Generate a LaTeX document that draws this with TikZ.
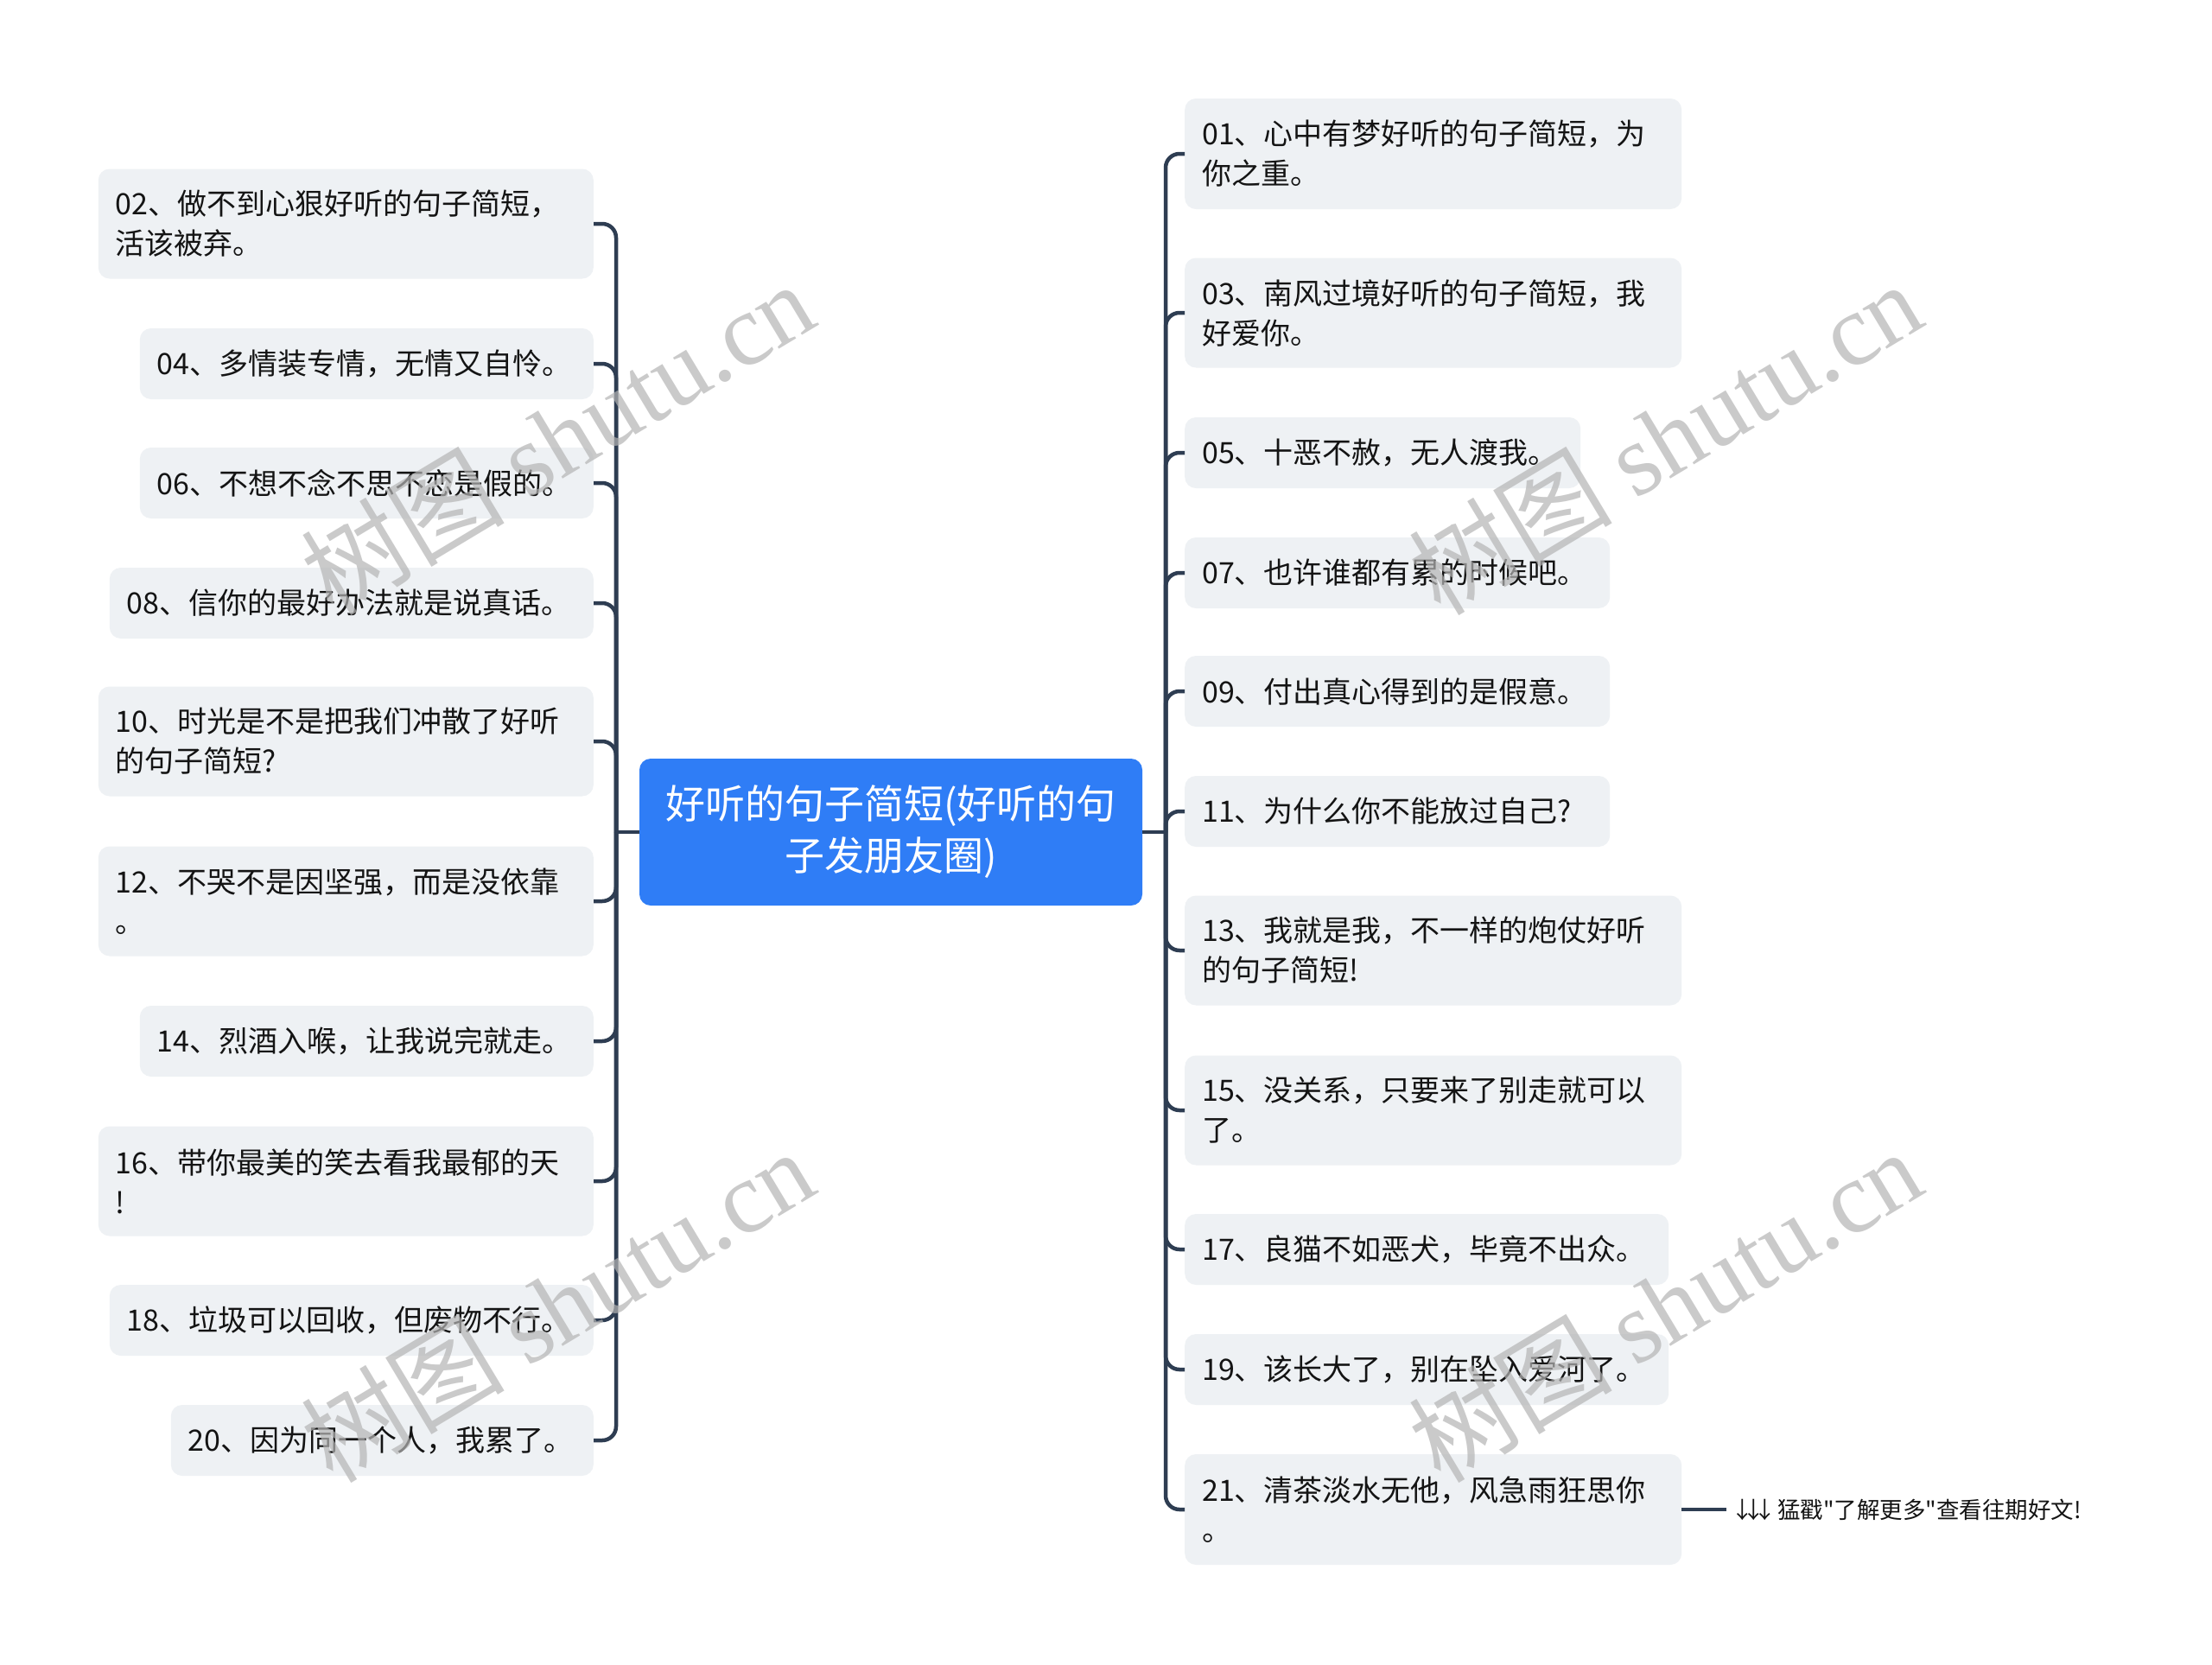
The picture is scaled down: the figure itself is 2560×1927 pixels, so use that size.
\documentclass[tikz,border=0pt]{standalone}
\usepackage{fontspec}
\setmainfont{Noto Sans CJK SC}
\newfontfamily\footfont[Ligatures=TeXOff]{Noto Sans CJK SC}
\newfontfamily\wmlatin{Liberation Serif}
\definecolor{linec}{HTML}{2E3D52}
\definecolor{boxc}{HTML}{EEF1F4}
\definecolor{mainc}{HTML}{2F7DF6}
\definecolor{txtc}{HTML}{141414}
\definecolor{wmc}{HTML}{B4B4B4}
\tikzset{
  leafbox/.style={fill=boxc, rounded corners=13pt, inner xsep=20pt, inner ysep=0pt,
    align=left, text=txtc, font=\fontsize{34}{46}\selectfont},
  leafL/.style={leafbox, anchor=east},
  leafR/.style={leafbox, anchor=west},
  conn/.style={draw=linec, line width=4.5pt, rounded corners=16pt},
  wmark/.style={text=wmc, opacity=0.7, rotate=31, font=\fontsize{118}{118}\selectfont, inner sep=0pt}
}
\begin{document}
\begin{tikzpicture}[x=1pt,y=-1pt]
\useasboundingbox[fill=white] (0,0) rectangle (2560,1927);
% centre
\node[fill=mainc, rounded corners=13pt, minimum width=582pt, minimum height=170pt, text width=560pt,
  align=center, text=white, font=\fontsize{46}{60}\selectfont] (c) at (1031,963)
  {好听的句子简短(好听的句\\子发朋友圈)};
\coordinate (lj) at (713,963);
\coordinate (rj) at (1349,963);
% left leaves
\node[leafL, text width=533pt, minimum height=127pt] (n02) at (687,259) {02、做不到心狠好听的句子简短，\\活该被弃。};
\node[leafL, text width=485pt, minimum height=82pt] (n04) at (687,421) {04、多情装专情，无情又自怜。};
\node[leafL, text width=485pt, minimum height=82pt] (n06) at (687,559) {06、不想不念不思不恋是假的。};
\node[leafL, text width=520pt, minimum height=82pt] (n08) at (687,698) {08、信你的最好办法就是说真话。};
\node[leafL, text width=533pt, minimum height=127pt] (n10) at (687,858) {10、时光是不是把我们冲散了好听\\的句子简短?};
\node[leafL, text width=533pt, minimum height=127pt] (n12) at (687,1043) {12、不哭不是因坚强，而是没依靠\\。};
\node[leafL, text width=485pt, minimum height=82pt] (n14) at (687,1205) {14、烈酒入喉，让我说完就走。};
\node[leafL, text width=533pt, minimum height=127pt] (n16) at (687,1367) {16、带你最美的笑去看我最郁的天\\!};
\node[leafL, text width=520pt, minimum height=82pt] (n18) at (687,1528) {18、垃圾可以回收，但废物不行。};
\node[leafL, text width=449pt, minimum height=82pt] (n20) at (687,1667) {20、因为同一个人，我累了。};
% right leaves
\node[leafR, text width=535pt, minimum height=128pt] (n01) at (1371,178) {01、心中有梦好听的句子简短，为\\你之重。};
\node[leafR, text width=535pt, minimum height=127pt] (n03) at (1371,362) {03、南风过境好听的句子简短，我\\好爱你。};
\node[leafR, text width=418pt, minimum height=82pt] (n05) at (1371,524) {05、十恶不赦，无人渡我。};
\node[leafR, text width=452pt, minimum height=82pt] (n07) at (1371,663) {07、也许谁都有累的时候吧。};
\node[leafR, text width=452pt, minimum height=82pt] (n09) at (1371,800) {09、付出真心得到的是假意。};
\node[leafR, text width=452pt, minimum height=82pt] (n11) at (1371,939) {11、为什么你不能放过自己?};
\node[leafR, text width=535pt, minimum height=127pt] (n13) at (1371,1100) {13、我就是我，不一样的炮仗好听\\的句子简短!};
\node[leafR, text width=535pt, minimum height=127pt] (n15) at (1371,1285) {15、没关系，只要来了别走就可以\\了。};
\node[leafR, text width=520pt, minimum height=82pt] (n17) at (1371,1446) {17、良猫不如恶犬，毕竟不出众。};
\node[leafR, text width=520pt, minimum height=82pt] (n19) at (1371,1585) {19、该长大了，别在坠入爱河了。};
\node[leafR, text width=535pt, minimum height=128pt] (n21) at (1371,1747) {21、清茶淡水无他，风急雨狂思你\\。};
% footer
\node[anchor=west, inner sep=0pt, text=txtc, font=\footfont\fontsize{26.5}{30}\selectfont] (foot) at (2010,1747)
  {\makebox[13pt]{↓}\makebox[13pt]{↓}\makebox[13pt]{↓}\hspace{8pt}猛戳"了解更多"查看往期好文!};
% connectors
\draw[conn] (c.west) -- (lj);
\draw[conn] (c.east) -- (rj);
\foreach \n in {n02,n04,n06,n08,n10,n12,n14,n16,n18,n20}{\draw[conn] (lj) |- (\n.east);}
\foreach \n in {n01,n03,n05,n07,n09,n11,n13,n15,n17,n19,n21}{\draw[conn] (rj) |- (\n.west);}
\draw[draw=linec, line width=4pt] (n21.east) -- ([xshift=-12pt]foot.west);
% watermarks
\node[wmark] (w1) at (645,506) {树图 {\wmlatin shutu.cn}};
\node[wmark] (w2) at (645,1510) {树图 {\wmlatin shutu.cn}};
\node[wmark] (w3) at (1927,506) {树图 {\wmlatin shutu.cn}};
\node[wmark] (w4) at (1927,1510) {树图 {\wmlatin shutu.cn}};
\end{tikzpicture}
\end{document}
